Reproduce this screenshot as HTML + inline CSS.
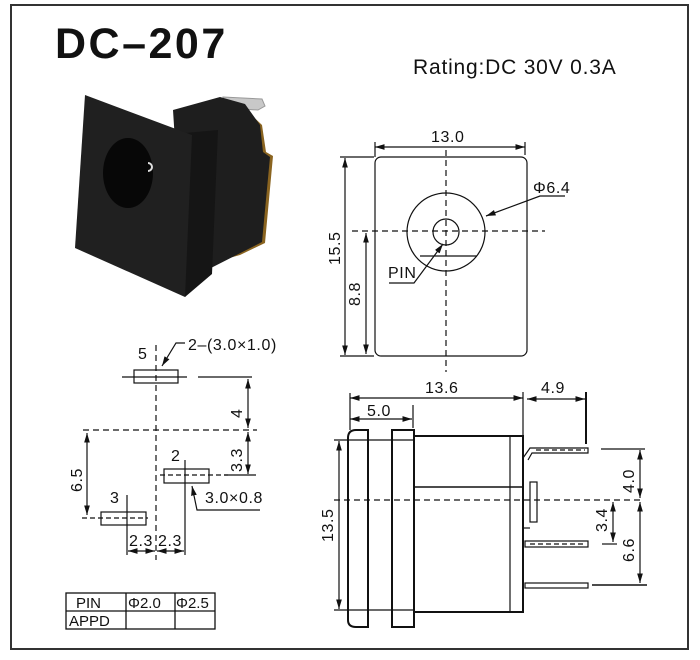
<!DOCTYPE html>
<html><head><meta charset="utf-8"><style>
html,body{margin:0;padding:0;background:#fff;width:700px;height:660px;overflow:hidden}
svg{display:block}
text{font-family:"Liberation Sans",Arial,sans-serif;fill:#111}
.d{font-size:16px;letter-spacing:0.6px}
</style></head><body>
<svg width="700" height="660" viewBox="0 0 700 660" xmlns="http://www.w3.org/2000/svg">
<defs>
<marker id="a" viewBox="0 0 10 10" refX="10" refY="5" markerWidth="8" markerHeight="8" orient="auto-start-reverse"><path d="M0,2 L10,5 L0,8 z" fill="#111"/></marker>
</defs>
<rect x="11" y="5" width="677" height="644" fill="none" stroke="#333" stroke-width="2"/>
<text x="55" y="58" font-size="43" font-weight="bold" letter-spacing="2.5">DC–207</text>
<text x="413" y="74" font-size="21" letter-spacing="0.8">Rating:DC 30V 0.3A</text>

<!-- photo -->
<g>
<path d="M223 97 L262 99 L265 106 L258 110 L225 108 Z" fill="#c8c8c8" stroke="#999"/>
<path d="M215 100 L240 104 L262 125 L266 152 L273 156 L265 243 L240 255 L215 262 Z" fill="#8a6420"/>
<path d="M173 110 L220 97 L245 104 L260 125 L263 152 L270 157 L262 242 L207 270 L185 297 Z" fill="#1e1e1e"/>
<path d="M185 133 L218 130 L212 274 L185 297 Z" fill="#151515"/>
<path d="M85 95 L192 135 L185 297 L75 248 Z" fill="#202020"/>
<ellipse cx="128" cy="173" rx="25" ry="35" fill="#070707"/>
<path d="M148 163 a4 4 0 1 1 0 8" fill="none" stroke="#ddd" stroke-width="2"/>
</g>

<!-- top view -->
<g stroke="#111" fill="none" stroke-width="1.2">
<rect x="375" y="157" width="152" height="199" rx="6"/>
<line x1="375" y1="147" x2="525" y2="147" marker-start="url(#a)" marker-end="url(#a)"/>
<line x1="375" y1="142" x2="375" y2="157"/><line x1="525" y1="142" x2="525" y2="155"/>
<line x1="446" y1="150" x2="446" y2="372" stroke-dasharray="6,4"/>
<line x1="352" y1="231" x2="545" y2="231" stroke-dasharray="6,4"/>
<circle cx="446" cy="232" r="39"/><circle cx="446" cy="232" r="13"/>
<line x1="420" y1="256" x2="477" y2="256"/>
<line x1="345" y1="158" x2="345" y2="355" marker-start="url(#a)" marker-end="url(#a)"/>
<line x1="340" y1="157" x2="374" y2="157"/><line x1="340" y1="356" x2="374" y2="356"/>
<line x1="366" y1="233" x2="366" y2="354" marker-start="url(#a)" marker-end="url(#a)"/>
<polyline points="389,283 414,283 443,244" marker-end="url(#a)"/>
<polyline points="565,196 540,196 486,216" marker-end="url(#a)"/>
</g>
<text x="431" y="142" class="d">13.0</text>
<text x="533" y="193" class="d">Φ6.4</text>
<text x="388" y="278" class="d">PIN</text>
<text transform="translate(340,265) rotate(-90)" class="d">15.5</text>
<text transform="translate(360,306) rotate(-90)" class="d">8.8</text>

<!-- side view -->
<g stroke="#111" fill="none" stroke-width="1.2">
<line x1="350" y1="398" x2="523" y2="398" marker-start="url(#a)" marker-end="url(#a)"/>
<line x1="350" y1="393" x2="350" y2="430"/><line x1="523" y1="392" x2="523" y2="436"/>
<line x1="527" y1="399" x2="585" y2="399" marker-start="url(#a)" marker-end="url(#a)"/>
<line x1="586" y1="392" x2="586" y2="444" stroke-width="2"/>
<line x1="350" y1="419" x2="412" y2="419" marker-start="url(#a)" marker-end="url(#a)"/>
<line x1="413" y1="405" x2="413" y2="428"/>
<path d="M368 430 L356 430 Q348 430 348 438 L348 620 Q348 627 356 627 L368 627 Z" stroke-width="2"/>
<rect x="392" y="430" width="22" height="197" stroke-width="2"/>
<rect x="414" y="436" width="109" height="176" stroke-width="2"/>
<line x1="510" y1="436" x2="510" y2="612"/>
<line x1="414" y1="487" x2="523" y2="487" stroke-width="1.6"/>
<line x1="334" y1="440" x2="414" y2="440"/><line x1="334" y1="610" x2="414" y2="610"/>
<line x1="334" y1="500" x2="640" y2="500" stroke-dasharray="6,4"/>
<line x1="339" y1="441" x2="339" y2="609" marker-start="url(#a)" marker-end="url(#a)"/>
<path d="M523 458 L530 448 L588 448 L588 453 L532 453 L528 460" />
<line x1="536" y1="450" x2="585" y2="450" stroke-dasharray="5,3"/>
<rect x="530" y="482" width="7" height="40"/>
<line x1="523" y1="528" x2="530" y2="528"/>
<rect x="525" y="541" width="63" height="6"/>
<line x1="530" y1="544" x2="585" y2="544" stroke-dasharray="5,3"/>
<rect x="525" y="583" width="63" height="5"/>
<line x1="601" y1="449" x2="645" y2="449"/>
<line x1="602" y1="544" x2="617" y2="544"/>
<line x1="592" y1="585" x2="647" y2="585" stroke-width="1.6"/>
<line x1="640" y1="450" x2="640" y2="498" marker-start="url(#a)" marker-end="url(#a)"/>
<line x1="613" y1="502" x2="613" y2="542" marker-start="url(#a)" marker-end="url(#a)"/>
<line x1="640" y1="502" x2="640" y2="583" marker-start="url(#a)" marker-end="url(#a)"/>
</g>
<text x="425" y="393" class="d">13.6</text>
<text x="541" y="393" class="d">4.9</text>
<text x="367" y="416" class="d">5.0</text>
<text transform="translate(333,542) rotate(-90)" class="d">13.5</text>
<text transform="translate(634,493) rotate(-90)" class="d">4.0</text>
<text transform="translate(607,532) rotate(-90)" class="d">3.4</text>
<text transform="translate(634,562) rotate(-90)" class="d">6.6</text>

<!-- footprint -->
<g stroke="#111" fill="none" stroke-width="1.2">
<line x1="156" y1="345" x2="156" y2="560" stroke-dasharray="6,4"/>
<rect x="134" y="370" width="44" height="13"/>
<line x1="122" y1="377" x2="187" y2="377"/>
<line x1="198" y1="377" x2="252" y2="377"/>
<line x1="248" y1="379" x2="248" y2="428" marker-start="url(#a)" marker-end="url(#a)"/>
<line x1="83" y1="430" x2="257" y2="430" stroke-dasharray="6,4"/>
<line x1="248" y1="432" x2="248" y2="474" marker-start="url(#a)" marker-end="url(#a)"/>
<rect x="164" y="469" width="45" height="14"/>
<line x1="185" y1="460" x2="185" y2="555"/>
<line x1="160" y1="475" x2="228" y2="475" stroke-dasharray="5,3"/>
<line x1="224" y1="475" x2="256" y2="475"/>
<polyline points="260,510 197,510 192,486" marker-end="url(#a)"/>
<rect x="101" y="512" width="45" height="13"/>
<line x1="82" y1="518" x2="148" y2="518" stroke-dasharray="5,3"/>
<line x1="127" y1="495" x2="127" y2="555"/>
<line x1="87" y1="433" x2="87" y2="515" marker-start="url(#a)" marker-end="url(#a)"/>
<line x1="128" y1="551" x2="155" y2="551" marker-start="url(#a)" marker-end="url(#a)"/>
<line x1="157" y1="551" x2="184" y2="551" marker-start="url(#a)" marker-end="url(#a)"/>
<polyline points="185,343 176,343 162,366" marker-end="url(#a)"/>
</g>
<text x="138" y="359" class="d">5</text>
<text x="171" y="461" class="d">2</text>
<text x="110" y="503" class="d">3</text>
<text x="188" y="350" class="d">2–(3.0×1.0)</text>
<text x="205" y="503" class="d">3.0×0.8</text>
<text x="129" y="546" class="d">2.3</text>
<text x="158" y="546" class="d">2.3</text>
<text transform="translate(82,492) rotate(-90)" class="d">6.5</text>
<text transform="translate(242,418) rotate(-90)" class="d">4</text>
<text transform="translate(242,472) rotate(-90)" class="d">3.3</text>

<!-- table -->
<g stroke="#111" fill="none" stroke-width="1.3">
<rect x="66" y="593" width="149" height="36"/>
<line x1="66" y1="611" x2="215" y2="611"/>
<line x1="126" y1="593" x2="126" y2="629"/>
<line x1="175" y1="593" x2="175" y2="629"/>
</g>
<text x="76" y="608" font-size="15">PIN</text>
<text x="128" y="608" font-size="15">Φ2.0</text>
<text x="176" y="608" font-size="15">Φ2.5</text>
<text x="69" y="626" font-size="15">APPD</text>
</svg>
</body></html>
